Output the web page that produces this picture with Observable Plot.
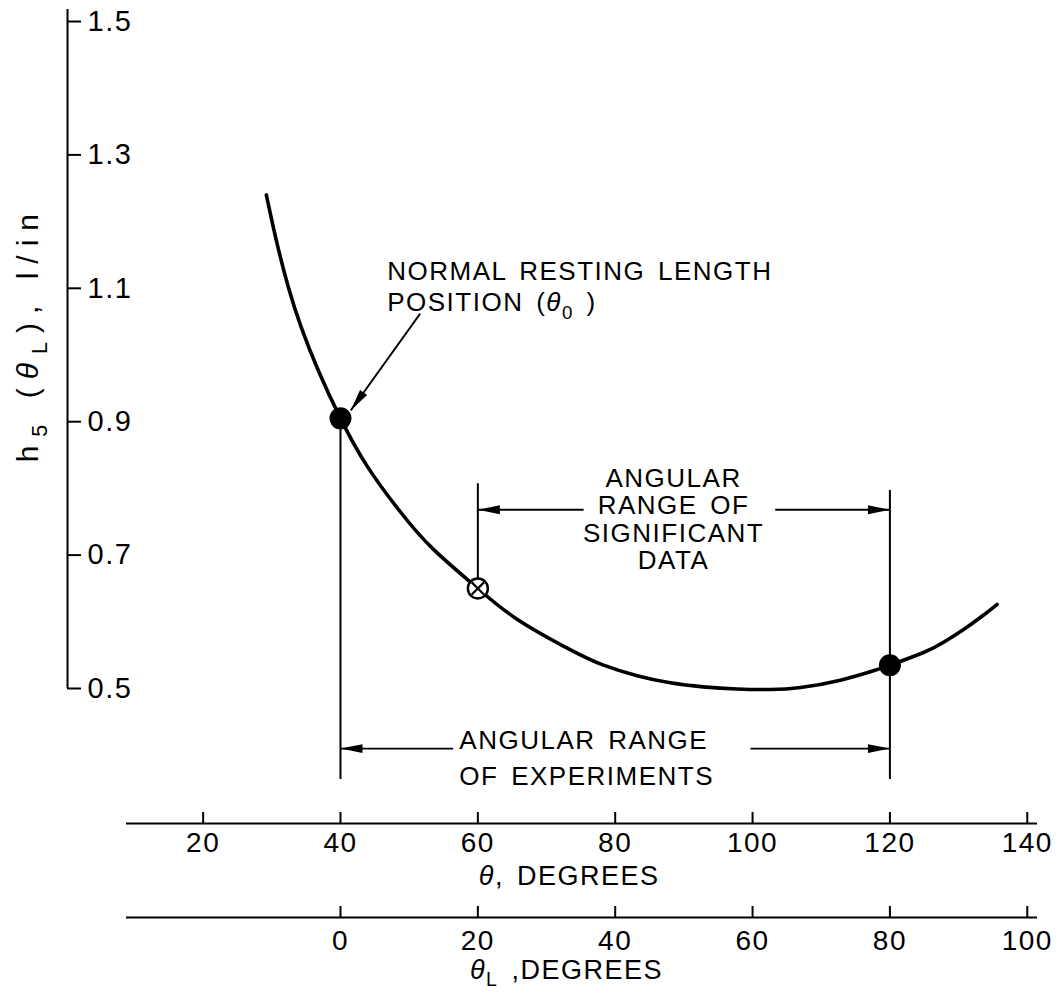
<!DOCTYPE html>
<html>
<head>
<meta charset="utf-8">
<script src="https://cdn.jsdelivr.net/npm/d3@7"></script>
<script src="https://cdn.jsdelivr.net/npm/@observablehq/plot@0.6"></script>
<style>
  html, body { margin: 0; padding: 0; background: #fff; }
  #chart svg { display: block; }
</style>
</head>
<body>
<div id="chart"></div>
<script>
// h5(θL) against the joint angle θ (degrees)
const theta = [29.2, 30.7, 32.4, 34.3, 36.8, 40, 43.9, 48.7, 53.5, 60, 65.7, 73.5, 78.3, 83.2, 88, 92.8, 97.7, 102.6, 107, 112.8, 117.6, 120, 124.9, 128, 131, 133.5, 135.6];
const h5 = [1.24, 1.17, 1.102, 1.041, 0.976, 0.905, 0.833, 0.765, 0.709, 0.65, 0.604, 0.558, 0.535, 0.519, 0.5085, 0.5025, 0.4992, 0.4985, 0.5015, 0.5125, 0.5265, 0.535, 0.554, 0.5705, 0.5905, 0.609, 0.626];

// filled points: resting length position and upper end of the experiments
const filledTheta = [40, 120];
const filledH5 = [0.905, 0.535];
// start of the significant data
const openTheta = [60];
const openH5 = [0.65];

// angular ranges (θ, degrees)
const experimentRange = [40, 120];
const significantRange = [60, 120];

// axes
const yTicks = [0.5, 0.7, 0.9, 1.1, 1.3, 1.5];
const thetaTicks = [20, 40, 60, 80, 100, 120, 140];
const thetaLTicks = [0, 20, 40, 60, 80, 100];
const theta0 = 40; // θL = θ − θ0

// ---- layout ----
const W = 1063, H = 993;
const margin = {left: 67, right: 26, top: 9, bottom: 305};
const xDomain = [0.25, 141.49];
const yDomain = [0.5, 1.518];
const kx = (W - margin.left - margin.right) / (xDomain[1] - xDomain[0]);
const ky = (H - margin.top - margin.bottom) / (yDomain[1] - yDomain[0]);
const ux = p => p / kx;   // pixel length -> θ units
const uy = p => p / ky;   // pixel length -> h5 units

const yAxisX = xDomain[0];
const xAxisStart = xDomain[0] + ux(59);
const thetaAxisY = yDomain[0] - uy(135);
const thetaLAxisY = yDomain[0] - uy(229);

const curve = theta.map((t, i) => ({t, h: h5[i]}));
const filled = filledTheta.map((t, i) => ({t, h: filledH5[i]}));
const open = openTheta.map((t, i) => ({t, h: openH5[i]}));

// guide lines and dimension arrows
const guideLow = 0.3636;
const guides = [
  {x: experimentRange[0], y1: filledH5[0], y2: guideLow},
  {x: significantRange[0], y1: 0.807, y2: openH5[0]},
  {x: experimentRange[1], y1: 0.797, y2: guideLow}
];
const sigArrowY = 0.768, expArrowY = 0.41;
const arrows = [
  {x1: 75.4, y1: sigArrowY, x2: significantRange[0], y2: sigArrowY},
  {x1: 103.3, y1: sigArrowY, x2: significantRange[1], y2: sigArrowY},
  {x1: 56.4, y1: expArrowY, x2: experimentRange[0], y2: expArrowY},
  {x1: 99.7, y1: expArrowY, x2: experimentRange[1], y2: expArrowY},
  {x1: 51.6, y1: 1.062, x2: 41.5, y2: 0.917}
];
// clockwise screen rotation of each head, measured from "pointing up"
arrows.forEach(a => {
  const dx = (a.x2 - a.x1) * kx, dy = -(a.y2 - a.y1) * ky;
  a.rot = Math.atan2(dx, -dy) * 180 / Math.PI;
});

// slender filled arrowhead, tip at the origin, pointing up
const arrowHead = {
  draw(context, size) {
    const r = Math.sqrt(size / Math.PI);
    const len = 2 * r, half = 0.4 * r;
    context.moveTo(0, 0);
    context.lineTo(half, len);
    context.lineTo(-half, len);
    context.closePath();
  }
};

const one = s => [s];
const txt = d => d;

const plot = Plot.plot({
  width: W, height: H,
  marginLeft: margin.left, marginRight: margin.right,
  marginTop: margin.top, marginBottom: margin.bottom,
  x: {domain: xDomain, axis: null},
  y: {domain: yDomain, axis: null},
  style: {fontFamily: "'Liberation Sans', Arial, sans-serif", color: "black", background: "white", letterSpacing: "1.5px", wordSpacing: "4px"},
  marks: [
    // y axis: line, inward ticks, labels to the right
    Plot.ruleX([yAxisX], {y1: yDomain[0], y2: yDomain[1], strokeWidth: 2}),
    Plot.ruleY(yTicks, {y: d => d, x1: yAxisX, x2: yAxisX + ux(14), strokeWidth: 2}),
    Plot.text(yTicks, {y: d => d, x: yAxisX, dx: 20, text: d => d.toFixed(1), textAnchor: "start", fontSize: 29}),
    Plot.text(one("h5 (θL), l/in"), {x: yAxisX, y: 1.032, dx: -39, rotate: -90, text: txt, fontSize: 30}),

    // θ axis
    Plot.ruleY([thetaAxisY], {x1: xAxisStart, x2: xDomain[1], strokeWidth: 2}),
    Plot.ruleX(thetaTicks, {x: d => d, y1: thetaAxisY, y2: thetaAxisY + uy(11), strokeWidth: 2}),
    Plot.text(thetaTicks, {x: d => d, y: thetaAxisY, dy: 20, text: d => String(d), fontSize: 28}),
    Plot.text(one("θ, DEGREES"), {x: 73.3, y: thetaAxisY, dy: 53, text: txt, fontSize: 27}),

    // θL axis, offset by θ0
    Plot.ruleY([thetaLAxisY], {x1: xAxisStart, x2: xDomain[1], strokeWidth: 2}),
    Plot.ruleX(thetaLTicks, {x: d => d + theta0, y1: thetaLAxisY, y2: thetaLAxisY + uy(11), strokeWidth: 2}),
    Plot.text(thetaLTicks, {x: d => d + theta0, y: thetaLAxisY, dy: 24, text: d => String(d), fontSize: 28}),
    Plot.text(one("θL ,DEGREES"), {x: 72.9, y: thetaLAxisY, dy: 53, text: txt, fontSize: 27}),

    // range guides and arrows
    Plot.ruleX(guides, {x: "x", y1: "y1", y2: "y2", strokeWidth: 2}),
    Plot.link(arrows, {x1: "x1", y1: "y1", x2: "x2", y2: "y2", strokeWidth: 1.8}),
    Plot.dot(arrows, {x: "x2", y: "y2", rotate: "rot", symbol: arrowHead, r: 11, fill: "black", stroke: "none"}),

    // curve
    Plot.line(curve, {x: "t", y: "h", curve: "natural", strokeWidth: 3.6, strokeLinecap: "round"}),

    // points
    Plot.dot(filled, {x: "t", y: "h", r: 11, fill: "black", stroke: "none"}),
    Plot.dot(open, {x: "t", y: "h", r: 10, fill: "white", stroke: "black", strokeWidth: 2.4}),
    Plot.dot(open, {x: "t", y: "h", r: 5.6, symbol: "times", stroke: "black", strokeWidth: 2.2}),

    // annotations
    Plot.text(one("NORMAL RESTING LENGTH"), {x: 46.8, y: 1.125, text: txt, textAnchor: "start", fontSize: 26}),
    Plot.text(one("POSITION (θ0 )"), {x: 46.8, y: 1.078, text: txt, textAnchor: "start", fontSize: 26}),
    Plot.text(one("ANGULAR\nRANGE OF\nSIGNIFICANT\nDATA"), {x: 88.5, y: 0.7537, text: txt, fontSize: 26, lineHeight: 1.06}),
    Plot.text(one("ANGULAR RANGE\nOF EXPERIMENTS"), {x: 57.3, y: 0.3996, text: txt, textAnchor: "start", fontSize: 26, lineHeight: 1.38})
  ]
});

document.getElementById("chart").appendChild(plot);

// subscripts and italic θ inside labels
function rich(match, parts, spacing, shift = 0.3) {
  d3.select(plot).selectAll("text").filter(function() { return this.textContent === match; }).each(function() {
    const fs = parseFloat(getComputedStyle(this).fontSize) || 26;
    const el = d3.select(this);
    if (spacing) el.attr("letter-spacing", spacing[0]).attr("word-spacing", spacing[1]);
    el.text(null);
    let low = false;
    for (const [s, sub, ital] of parts) {
      const t = el.append("tspan").text(s);
      if (sub) {
        t.attr("font-size", 0.72 * fs);
        if (!low) { t.attr("dy", shift * fs); low = true; }
      } else if (low) {
        t.attr("dy", -shift * fs); low = false;
      }
      if (ital) t.attr("font-style", "italic");
    }
  });
}
rich("h5 (θL), l/in", [["h"], ["5", true], [" ("], ["θ", false, true], ["L", true], ["), l/in"]], [9, 0]);
rich("θ, DEGREES", [["θ", false, true], [", DEGREES"]]);
rich("θL ,DEGREES", [["θ", false, true], ["L", true], [" ,DEGREES"]], null, 0.25);
rich("POSITION (θ0 )", [["POSITION ("], ["θ", false, true], ["0", true], [" )"]]);
</script>
</body>
</html>
